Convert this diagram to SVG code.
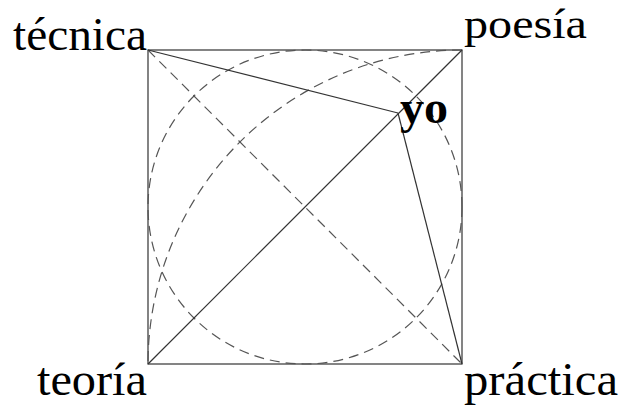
<svg xmlns="http://www.w3.org/2000/svg" width="620" height="408" viewBox="0 0 620 408">
<style>
.lbl{font-family:"Liberation Serif","DejaVu Serif",serif;font-size:46px;fill:#000}
.bold{font-weight:bold}
.solid{fill:none;stroke:#333;stroke-width:1.2}
.dash{fill:none;stroke:#555;stroke-width:1.2;stroke-dasharray:10,6}
</style>
<rect width="620" height="408" fill="#fff"/>
<g id="connectors">
<rect class="solid" x="148" y="50" width="314" height="314"/>
<circle class="dash" cx="305" cy="207" r="157"/>
<path class="dash" d="M462,50 A314,314 0 0,0 148,364"/>
<line class="dash" x1="148" y1="50" x2="462" y2="364"/>
<line class="solid" x1="148" y1="364" x2="462" y2="50"/>
<line class="solid" x1="148" y1="50" x2="398" y2="113"/>
<line class="solid" x1="398" y1="113" x2="462" y2="364"/>
</g>
<g id="tecnica"><text class="lbl" x="13" y="50" textLength="134" lengthAdjust="spacingAndGlyphs">técnica</text></g>
<g id="poesia"><text class="lbl" x="464" y="38" font-size="43" style="font-size:43px" textLength="123" lengthAdjust="spacingAndGlyphs">poesía</text></g>
<g id="teoria"><text class="lbl" x="37" y="395" textLength="110" lengthAdjust="spacingAndGlyphs">teoría</text></g>
<g id="practica"><text class="lbl" x="464" y="395" textLength="154" lengthAdjust="spacingAndGlyphs">práctica</text></g>
<g id="yo"><text class="lbl bold" x="400" y="123" textLength="48" lengthAdjust="spacingAndGlyphs">yo</text></g>
</svg>
